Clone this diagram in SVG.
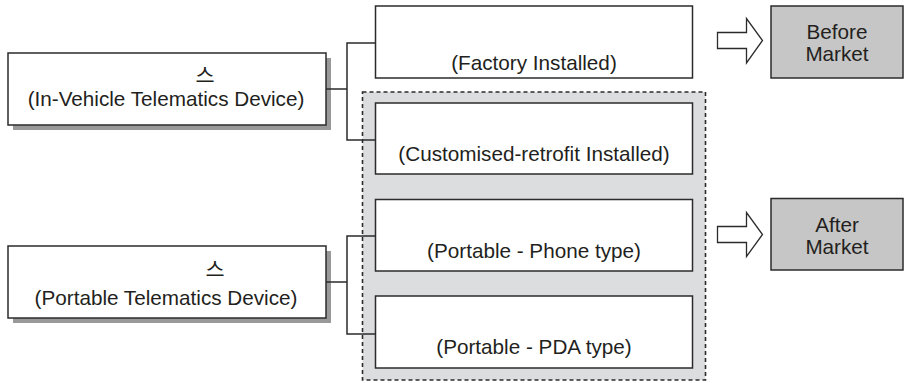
<svg xmlns="http://www.w3.org/2000/svg" width="905" height="383" viewBox="0 0 905 383">
  <style>
    .box { fill: #ffffff; stroke: #2b2b2b; stroke-width: 1.5; }
    .shadow { fill: #999999; }
    .market { fill: #c6c6c6; stroke: #2b2b2b; stroke-width: 1.5; }
    .group { fill: #dcdddf; stroke: #2b2b2b; stroke-width: 1.6; stroke-dasharray: 4 3; }
    .arrow { fill: #ffffff; stroke: #2b2b2b; stroke-width: 1.3; stroke-linejoin: miter; }
    .wire { fill: none; stroke: #2b2b2b; stroke-width: 1.5; }
    text { font-family: "Liberation Sans", Arial, "Noto Sans CJK KR", sans-serif; font-size: 20.7px; fill: #231f20; text-anchor: middle; }
  </style>

  <!-- dashed aftermarket grouping -->
  <rect id="aftermarket-group" class="group" x="362.5" y="92" width="343" height="288"/>

  <!-- device types -->
  <g id="in-vehicle">
    <rect class="shadow" x="13" y="58" width="318" height="72"/>
    <rect class="box" x="8" y="53" width="318" height="72"/>
    <text x="205" y="83">스</text>
    <text x="166" y="106">(In-Vehicle Telematics Device)</text>
  </g>
  <g id="portable">
    <rect class="shadow" x="13" y="251" width="318" height="72"/>
    <rect class="box" x="8" y="246" width="318" height="72"/>
    <text x="215" y="277">스</text>
    <text x="166" y="305">(Portable Telematics Device)</text>
  </g>

  <!-- installation types -->
  <g id="factory">
    <rect class="box" x="375.5" y="6" width="317" height="72"/>
    <text x="534" y="70">(Factory Installed)</text>
  </g>
  <g id="retrofit">
    <rect class="box" x="375.5" y="103" width="317" height="71"/>
    <text x="534" y="161">(Customised-retrofit Installed)</text>
  </g>
  <g id="phone">
    <rect class="box" x="375.5" y="199.5" width="317" height="71.5"/>
    <text x="534" y="258">(Portable - Phone type)</text>
  </g>
  <g id="pda">
    <rect class="box" x="375.5" y="296" width="317" height="72"/>
    <text x="534" y="354">(Portable - PDA type)</text>
  </g>

  <!-- market segments -->
  <g id="before-market">
    <path class="arrow" d="M717.5 32.5 H746.5 V18.5 L762.5 40.5 L746.5 63 V48.5 H717.5 Z"/>
    <rect class="market" x="771" y="6" width="132" height="72"/>
    <text x="837" y="39">Before</text>
    <text x="837" y="61">Market</text>
  </g>
  <g id="after-market">
    <path class="arrow" d="M717.5 226.5 H746.5 V212.5 L762.5 234.5 L746.5 256.5 V242.5 H717.5 Z"/>
    <rect class="market" x="771" y="198.5" width="132" height="71.5"/>
    <text x="837" y="232">After</text>
    <text x="837" y="254">Market</text>
  </g>

  <!-- bracket connectors -->
  <g id="connectors">
    <path class="wire" d="M326 89 H347 M375.5 43 H347 V140 H375.5"/>
    <path class="wire" d="M326 282 H347 M375.5 236 H347 V334 H375.5"/>
  </g>
</svg>
